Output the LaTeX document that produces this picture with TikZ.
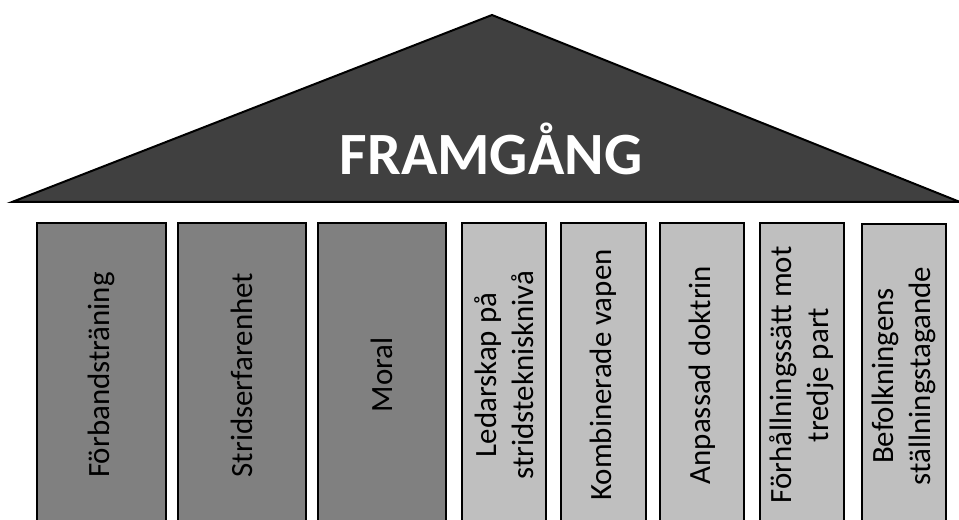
\documentclass[tikz,border=0pt]{standalone}
\usepackage{fontspec}
\setmainfont{Carlito}
\definecolor{roof}{HTML}{404040}
\definecolor{dgray}{HTML}{808080}
\definecolor{lgray}{HTML}{BFBFBF}
\begin{document}
\begin{tikzpicture}[x=0.75pt,y=-0.75pt,
 pillar/.style={draw=black,line width=1.5pt,rotate=90,inner sep=0pt,
   minimum width=228pt,align=center,text=black,
   font=\fontsize{23.2}{27.5}\selectfont},
 darkp/.style={pillar,fill=dgray},
 lightp/.style={pillar,fill=lgray}]
\useasboundingbox (0,0) rectangle (959,520);
\clip (0,0) rectangle (959,520);
% roof
\coordinate (L) at (12,202);
\coordinate (T) at (492,15);
\coordinate (R) at (960,202);
\draw[fill=roof,line width=1.5pt,line join=miter] (L) -- (T) -- (R) -- cycle;
\node[anchor=base,text=white,font=\bfseries\fontsize{45}{54}\selectfont,inner sep=0pt] (title) at (491,175) {FRAMGÅNG};
% pillars
\node[darkp,minimum height=96.75pt] (p1) at (101.5,375) {Förbandsträning};
\node[darkp,minimum height=96pt] (p2) at (242,375) {Stridserfarenhet};
\node[darkp,minimum height=96pt] (p3) at (382,375) {Moral};
\node[lightp,minimum height=63pt] (p4) at (504,375) {Ledarskap på\\stridsteknisknivå};
\node[lightp,minimum height=63.75pt] (p5) at (603.5,375) {Kombinerade vapen};
\node[lightp,minimum height=63pt] (p6) at (702,375) {Anpassad doktrin};
\node[lightp,minimum height=63pt] (p7) at (802,375) {Förhållningssätt mot\\tredje part};
\node[lightp,minimum height=63pt] (p8) at (904,376) {Befolkningens\\ställningstagande};
\end{tikzpicture}
\end{document}
